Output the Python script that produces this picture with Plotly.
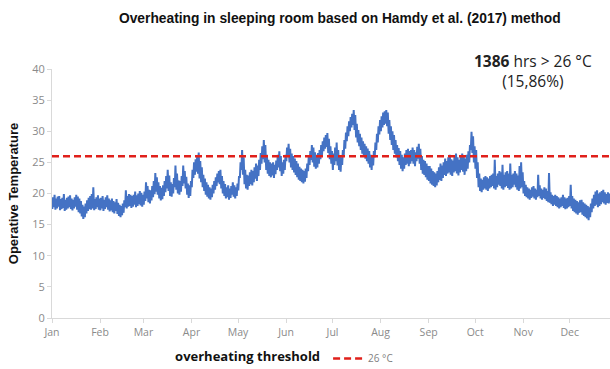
import plotly.graph_objects as go

months = ["Jan", "Feb", "Mar", "Apr", "May", "Jun", "Jul", "Aug", "Sep", "Oct", "Nov", "Dec"]
month_start = [0, 31, 59, 90, 120, 151, 181, 212, 243, 273, 304, 334]

# daily minimum (night) and maximum (day) operative temperature, per month
lo = {
    "Jan": [17.5, 17.8, 17.4, 17.6, 17.9, 17.3, 17.5, 17.7, 17.2, 17.4, 17.6, 17.8, 17.5, 17.3, 17.6, 17.9, 17.4, 17.0, 16.8, 16.3, 15.9, 16.2, 16.8, 17.2, 17.5, 17.4, 17.6, 17.3, 17.5, 17.8, 17.4],
    "Feb": [17.3, 17.6, 17.2, 17.5, 17.8, 17.4, 17.1, 17.3, 17.0, 16.8, 17.2, 16.7, 16.4, 16.2, 16.5, 16.9, 17.8, 17.6, 17.9, 18.0, 17.7, 17.9, 18.2, 17.8, 18.0, 18.3, 18.1, 17.9],
    "Mar": [18.2, 18.8, 19.2, 18.6, 18.4, 18.9, 19.4, 19.9, 20.3, 19.8, 19.2, 18.9, 19.1, 19.6, 20.2, 20.8, 20.4, 19.6, 19.5, 20.0, 21.0, 20.6, 20.0, 19.8, 20.3, 21.2, 21.6, 20.8, 19.8, 19.3, 19.6],
    "Apr": [21.0, 22.5, 23.0, 23.5, 23.2, 22.4, 21.8, 21.0, 20.4, 19.8, 19.5, 19.2, 19.0, 19.4, 20.0, 20.6, 21.2, 21.8, 21.5, 20.8, 20.0, 19.6, 19.2, 19.4, 19.0, 19.3, 19.8, 19.5, 19.2, 19.6],
    "May": [20.5, 22.5, 23.8, 23.0, 21.5, 20.8, 20.6, 21.2, 21.5, 21.3, 21.8, 22.4, 22.0, 22.8, 23.8, 24.8, 25.5, 25.0, 23.8, 23.2, 22.8, 22.6, 22.9, 22.5, 23.1, 23.8, 24.2, 23.6, 22.8, 23.2, 23.8],
    "Jun": [25.2, 26.0, 25.0, 24.2, 23.8, 23.4, 23.0, 22.6, 22.2, 22.0, 21.8, 21.6, 21.9, 22.5, 23.6, 24.6, 25.4, 25.0, 24.3, 24.0, 24.2, 24.8, 25.5, 26.2, 26.8, 27.2, 27.5, 26.5, 25.5, 24.8],
    "Jul": [23.8, 24.6, 25.2, 24.5, 23.8, 23.5, 24.6, 26.0, 27.2, 28.4, 29.2, 30.0, 30.6, 31.0, 30.2, 29.0, 28.2, 27.6, 27.0, 26.4, 26.0, 25.6, 25.2, 24.8, 24.2, 23.8, 24.5, 25.8, 27.0, 28.2, 29.5],
    "Aug": [30.0, 30.6, 31.0, 31.2, 30.8, 29.6, 28.6, 27.8, 27.0, 26.4, 25.8, 25.2, 24.6, 24.0, 23.6, 24.0, 24.6, 24.8, 24.4, 24.8, 25.2, 24.8, 24.4, 25.2, 25.6, 24.8, 23.8, 23.2, 23.0, 22.6, 22.2],
    "Sep": [22.0, 21.6, 21.4, 21.2, 21.0, 21.3, 21.8, 22.2, 22.0, 22.5, 23.0, 22.8, 23.2, 23.4, 23.0, 22.8, 23.4, 23.6, 23.2, 22.9, 23.4, 23.8, 23.5, 23.0, 23.6, 24.0, 25.0, 27.0, 26.5, 25.0],
    "Oct": [24.0, 22.5, 21.0, 20.4, 20.2, 20.6, 20.8, 20.6, 20.4, 20.8, 21.0, 21.2, 20.8, 20.6, 21.0, 21.4, 21.2, 20.8, 20.6, 21.0, 21.2, 20.9, 20.6, 20.8, 21.0, 21.4, 21.0, 20.6, 20.4, 20.8, 21.0],
    "Nov": [20.0, 19.6, 19.4, 19.2, 19.0, 19.3, 19.5, 19.2, 19.0, 19.4, 19.6, 19.2, 19.0, 19.3, 19.1, 18.8, 18.6, 18.5, 18.3, 18.0, 18.2, 18.0, 17.8, 17.6, 17.8, 18.0, 17.7, 17.5, 17.6, 17.8],
    "Dec": [18.0, 17.6, 17.2, 17.0, 16.8, 16.6, 16.9, 17.0, 16.6, 16.4, 16.2, 16.0, 15.7, 16.2, 17.0, 17.6, 18.0, 18.2, 17.8, 18.0, 18.3, 18.6, 18.4, 18.2, 18.5, 18.4, 18.6, 18.3, 18.5, 18.4, 18.2],
}
hi = {
    "Jan": [19.4, 19.8, 19.2, 19.5, 19.6, 19.1, 19.3, 19.9, 19.0, 19.3, 19.5, 19.7, 19.2, 19.0, 19.4, 19.8, 19.5, 19.2, 18.8, 18.2, 17.9, 18.4, 18.9, 19.3, 19.6, 19.9, 21.0, 19.1, 19.4, 19.7, 19.2],
    "Feb": [19.3, 19.6, 19.0, 19.4, 19.7, 19.2, 18.9, 19.2, 18.8, 18.6, 19.1, 18.5, 18.2, 18.0, 18.4, 18.9, 20.5, 19.6, 19.9, 19.8, 19.6, 19.8, 20.3, 19.7, 20.0, 20.4, 20.1, 19.8],
    "Mar": [20.3, 21.8, 21.2, 20.6, 20.5, 21.2, 22.0, 23.3, 22.6, 21.8, 21.2, 20.9, 21.3, 22.0, 22.8, 23.8, 22.9, 21.8, 21.5, 22.5, 24.5, 23.2, 22.1, 22.0, 22.8, 24.5, 23.6, 22.7, 21.6, 21.3, 22.0],
    "Apr": [23.8, 25.0, 25.5, 26.0, 26.6, 25.2, 24.2, 23.0, 22.4, 21.8, 21.4, 21.0, 20.8, 21.4, 22.0, 22.6, 23.2, 23.6, 23.8, 22.8, 22.0, 21.5, 21.0, 21.3, 20.8, 21.2, 21.8, 21.3, 21.0, 21.6],
    "May": [22.8, 25.0, 27.0, 25.8, 23.8, 23.0, 22.9, 23.4, 23.8, 23.6, 24.2, 24.8, 24.5, 25.4, 26.5, 27.6, 28.6, 27.8, 26.2, 25.4, 25.0, 24.8, 25.0, 24.6, 25.3, 26.2, 26.8, 26.0, 25.0, 25.4, 26.2],
    "Jun": [27.4, 28.0, 27.2, 26.4, 26.0, 25.6, 25.2, 24.8, 24.3, 24.0, 23.8, 23.6, 24.0, 24.8, 26.0, 26.8, 27.8, 27.4, 26.6, 26.2, 26.5, 27.0, 27.8, 28.4, 29.0, 29.4, 29.7, 28.8, 27.6, 26.8],
    "Jul": [26.4, 27.4, 28.2, 27.0, 26.0, 25.8, 27.0, 28.6, 29.8, 30.8, 31.6, 32.3, 32.8, 33.4, 32.6, 31.2, 30.2, 29.6, 29.0, 28.4, 28.0, 27.6, 27.2, 26.8, 26.2, 26.0, 26.8, 28.2, 29.6, 30.8, 31.8],
    "Aug": [32.4, 33.0, 33.2, 33.4, 33.0, 31.8, 30.8, 30.0, 29.4, 28.6, 27.8, 27.3, 26.8, 26.2, 25.8, 26.4, 27.0, 27.2, 26.8, 27.0, 27.4, 27.0, 26.6, 27.5, 28.0, 27.2, 26.0, 25.4, 25.2, 24.8, 24.4],
    "Sep": [24.4, 24.0, 23.6, 23.4, 23.2, 23.6, 24.2, 24.8, 24.5, 25.0, 25.6, 25.2, 25.8, 26.2, 25.5, 25.3, 26.0, 26.4, 25.8, 25.4, 25.9, 26.4, 26.0, 25.6, 26.2, 26.8, 27.8, 29.9, 29.2, 27.6],
    "Oct": [27.0, 25.0, 23.2, 22.4, 22.2, 22.6, 22.8, 22.6, 22.4, 22.8, 23.0, 23.2, 25.4, 22.8, 23.2, 23.6, 23.4, 24.6, 23.0, 23.4, 23.6, 23.2, 24.8, 23.0, 23.2, 23.6, 23.2, 22.9, 24.4, 25.0, 23.4],
    "Nov": [22.0, 21.4, 21.0, 20.8, 20.6, 21.0, 21.2, 20.8, 20.6, 23.0, 21.3, 20.8, 20.6, 21.0, 20.8, 20.4, 23.3, 20.2, 19.8, 19.6, 19.8, 19.6, 19.4, 19.2, 19.4, 19.8, 19.4, 19.2, 19.3, 19.6],
    "Dec": [21.4, 19.6, 19.2, 19.0, 18.8, 18.6, 18.9, 19.0, 18.6, 18.4, 18.2, 18.0, 17.8, 18.4, 19.2, 19.8, 20.3, 20.5, 20.0, 20.2, 20.4, 20.6, 20.2, 19.9, 20.2, 20.0, 20.2, 19.8, 20.0, 19.9, 19.6],
}
threshold = 26
y_ticks = [0, 5, 10, 15, 20, 25, 30, 35, 40]

# build the time series: night minimum then day maximum for each day
xs, ys = [], []
for m, start in zip(months, month_start):
    for i, (a, b) in enumerate(zip(lo[m], hi[m])):
        d = start + i
        xs += [d + 0.2, d + 0.65]
        ys += [a, b]

fig = go.Figure()
fig.add_trace(go.Scatter(x=xs, y=ys, mode="lines", line=dict(color="#4472C4", width=2),
                         showlegend=False, hoverinfo="skip"))
fig.add_trace(go.Scatter(x=[0, 366], y=[threshold, threshold], mode="lines",
                         line=dict(color="#E0201B", width=2.5, dash="7px,4px"),
                         name="26 °C", showlegend=True))

fig.update_layout(
    width=610, height=369,
    margin=dict(l=52, r=0, t=69, b=51, autoexpand=False),
    paper_bgcolor="white", plot_bgcolor="white",
    font=dict(family="Liberation Sans, Arial, sans-serif"),
    title=dict(text="<b>Overheating in sleeping room based on Hamdy et al. (2017) method</b>",
               x=0.557, xanchor="center", y=0.951, yanchor="middle",
               font=dict(size=13.8, color="#111111")),
    xaxis=dict(range=[0, 360], tickvals=month_start, ticktext=months,
               showgrid=False, zeroline=False, showline=True, linecolor="#d9d9d9", linewidth=1,
               ticks="outside", ticklen=4, tickcolor="#d9d9d9",
               tickfont=dict(family="Open Sans, sans-serif", size=10.5, color="#8a8a8a")),
    yaxis=dict(range=[0, 40], tickvals=y_ticks, showgrid=False, zeroline=False,
               showline=True, linecolor="#d9d9d9", linewidth=1,
               ticks="outside", ticklen=4, tickcolor="#d9d9d9",
               tickfont=dict(family="Open Sans, sans-serif", size=11, color="#8a8a8a"),
               title=dict(text="<b>Operative Temperature</b>", standoff=10,
                          font=dict(size=13, color="#111111"))),
    legend=dict(orientation="h", x=0.217, xanchor="left", y=-0.163, yanchor="middle",
                title=dict(text="<b>overheating threshold</b>", side="left",
                           font=dict(size=13, color="#111111")),
                font=dict(size=10, color="#7f7f7f", family="Open Sans, sans-serif"),
                itemwidth=30, bgcolor="rgba(0,0,0,0)"),
    annotations=[dict(text="<b>1386</b> hrs > 26 °C<br>(15,86%)", xref="paper", yref="paper",
                      x=0.862, y=0.99, xanchor="center", yanchor="middle", showarrow=False,
                      font=dict(size=15.5, color="#222222", family="Open Sans, sans-serif"))],
)

fig.write_html("out.html")
